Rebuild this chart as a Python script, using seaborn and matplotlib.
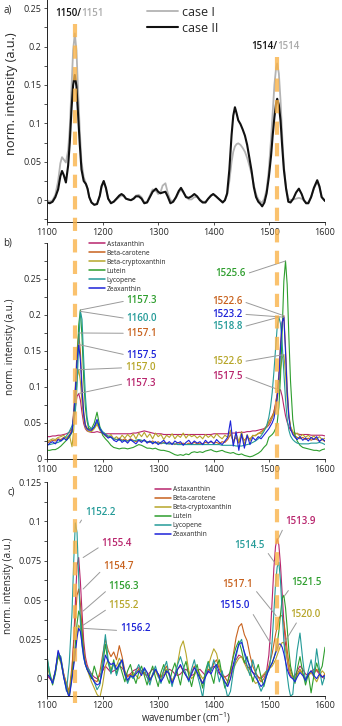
import numpy as np
import pandas as pd
import seaborn as sns
import matplotlib
matplotlib.use("Agg")
import matplotlib.pyplot as plt
from matplotlib.lines import Line2D
from matplotlib.ticker import MultipleLocator, FixedLocator, FixedFormatter
import matplotlib.transforms as mtransforms

# ---------------- panel a data ----------------
wn_a = [1100, 1105, 1110, 1115, 1120, 1124, 1127, 1130, 1134, 1138, 1141, 1144, 1147, 1150, 1153,
        1156, 1159, 1162, 1166, 1170, 1173, 1176, 1180, 1185, 1190, 1195, 1198, 1202, 1206, 1210,
        1215, 1220, 1225, 1230, 1234, 1238, 1242, 1246, 1251, 1256, 1260, 1265, 1270, 1275, 1280,
        1285, 1290, 1296, 1300, 1304, 1308, 1313, 1317, 1322, 1327, 1332, 1337, 1341, 1345, 1350,
        1355, 1360, 1365, 1370, 1375, 1380, 1385, 1390, 1395, 1399, 1404, 1410, 1416, 1420, 1424,
        1428, 1432, 1435, 1438, 1441, 1444, 1448, 1452, 1456, 1460, 1464, 1468, 1472, 1476, 1480,
        1484, 1487, 1491, 1495, 1499, 1503, 1506, 1509, 1512, 1514, 1517, 1520, 1523, 1526, 1530,
        1534, 1538, 1543, 1548, 1553, 1558, 1562, 1566, 1570, 1575, 1580, 1586, 1590, 1594, 1600]
case2 = [-0.003, -0.004, -0.002, 0.004, 0.014, 0.031, 0.038, 0.033, 0.023, 0.045, 0.075, 0.118, 0.150, 0.163, 0.148,
         0.110, 0.072, 0.040, 0.025, 0.021, 0.015, 0.004, -0.003, -0.006, -0.005, 0.006, 0.018, 0.025, 0.016, 0.002,
         -0.004, -0.002, 0.002, 0.006, 0.008, 0.006, 0.002, 0.001, 0.000, 0.002, 0.005, 0.005, 0.002, -0.004, -0.003,
         0.004, 0.011, 0.015, 0.011, 0.009, 0.010, 0.011, 0.005, -0.004, -0.002, 0.004, 0.012, 0.016, 0.011, 0.004,
         0.003, 0.005, 0.008, 0.005, 0.000, -0.003, -0.003, 0.002, 0.006, 0.008, 0.005, 0.001, -0.003, 0.000, 0.009,
         0.040, 0.085, 0.110, 0.121, 0.113, 0.104, 0.099, 0.092, 0.084, 0.072, 0.055, 0.038, 0.017, 0.004, -0.002,
         -0.005, -0.008, -0.003, 0.009, 0.030, 0.058, 0.085, 0.108, 0.126, 0.132, 0.124, 0.104, 0.070, 0.040, 0.015,
         -0.002, -0.003, 0.002, 0.010, 0.015, 0.008, 0.000, -0.004, -0.004, 0.004, 0.016, 0.026, 0.018, 0.004, -0.001]
case1 = [0.000, -0.002, 0.000, 0.007, 0.025, 0.048, 0.056, 0.053, 0.049, 0.065, 0.095, 0.145, 0.195, 0.217, 0.195,
         0.140, 0.090, 0.050, 0.030, 0.022, 0.014, 0.004, -0.003, -0.006, -0.005, 0.005, 0.016, 0.024, 0.015, 0.002,
         -0.003, -0.002, 0.001, 0.004, 0.006, 0.005, 0.002, 0.001, 0.000, 0.003, 0.006, 0.007, 0.004, -0.003, -0.002,
         0.006, 0.014, 0.012, 0.008, 0.010, 0.019, 0.022, 0.010, 0.000, -0.001, 0.003, 0.010, 0.014, 0.010, 0.005,
         0.001, 0.001, 0.004, 0.004, 0.001, -0.002, -0.002, 0.002, 0.006, 0.008, 0.005, 0.001, -0.002, 0.000, 0.007,
         0.025, 0.050, 0.063, 0.070, 0.073, 0.074, 0.072, 0.068, 0.063, 0.055, 0.045, 0.034, 0.020, 0.008, 0.001,
         -0.002, -0.003, 0.002, 0.014, 0.040, 0.080, 0.115, 0.150, 0.172, 0.178, 0.165, 0.130, 0.085, 0.045, 0.016,
         0.002, 0.000, 0.001, 0.002, 0.003, 0.002, 0.000, -0.003, -0.003, 0.004, 0.015, 0.024, 0.017, 0.004, -0.001]

# ---------------- panels b and c: shared wavenumber grid ----------------
grid = [1100, 1105, 1110, 1115, 1120, 1125, 1130, 1135, 1140, 1145,
        1148, 1151, 1154, 1157, 1160, 1163, 1166, 1169, 1172,
        1175, 1180, 1185, 1190, 1195, 1200, 1205, 1210, 1215, 1220,
        1225, 1230, 1235, 1240, 1245, 1250, 1255, 1260, 1265, 1270,
        1275, 1280, 1285, 1290, 1295, 1300, 1305, 1310, 1315, 1320,
        1325, 1330, 1335, 1340, 1345, 1350, 1355, 1360, 1365, 1370,
        1375, 1380, 1385, 1390, 1395, 1400, 1405, 1410, 1415, 1420,
        1425, 1430, 1435, 1440, 1445, 1450, 1455, 1460, 1465, 1470,
        1475, 1480, 1485, 1490, 1495,
        1499, 1502, 1505, 1508, 1511, 1514, 1517, 1520, 1523, 1526, 1529, 1532, 1535, 1538,
        1542, 1546, 1550, 1555, 1560, 1565, 1570, 1575, 1580, 1585, 1590, 1595, 1600]

names = ["Astaxanthin", "Beta-carotene", "Beta-cryptoxanthin", "Lutein", "Lycopene", "Zeaxanthin"]
colors = ["#b8246c", "#c8621e", "#b7a62a", "#2e9e2e", "#249b98", "#1c22d8"]

# panel b values in units of 1e-3 a.u.
astax_b = [31, 31, 32, 32, 33, 33, 34, 35, 37, 42,
           55, 72, 87, 91, 82, 64, 49, 42, 39,
           38, 37, 37, 38, 37, 36, 35, 35, 35, 35,
           35, 35, 35, 35, 35, 35, 36, 36, 37, 38,
           39, 38, 37, 36, 35, 35, 35, 34, 34, 34,
           34, 34, 34, 34, 34, 34, 34, 34, 34, 34,
           34, 34, 34, 34, 34, 35, 35, 35, 35, 35,
           35, 36, 36, 36, 37, 37, 37, 38, 38, 39,
           39, 40, 41, 42, 44,
           47, 51, 57, 65, 77, 89, 96, 96, 87, 73, 60, 51, 45, 40,
           37, 36, 35, 34, 34, 34, 34, 33, 33, 33, 33, 33, 32]
betac_b = [22, 24, 26, 25, 28, 27, 30, 29, 33, 40,
           66, 102, 150, 175, 150, 102, 66, 48, 43,
           41, 40, 44, 50, 42, 37, 34, 31, 30, 28,
           27, 29, 26, 28, 25, 28, 26, 24, 27, 25,
           26, 24, 23, 25, 22, 24, 21, 23, 22, 21,
           22, 20, 23, 21, 22, 20, 22, 21, 23, 21,
           22, 21, 23, 22, 24, 22, 23, 21, 24, 23,
           27, 34, 25, 30, 22, 32, 26, 30, 28, 32,
           33, 35, 38, 41, 46,
           52, 56, 60, 65, 75, 92, 118, 160, 190, 199, 155, 100, 62, 45,
           36, 32, 30, 28, 30, 27, 29, 26, 28, 27, 25, 27, 24]
bcrypt_b = [24, 26, 28, 27, 30, 31, 33, 28, 34, 17,
            40, 78, 112, 124, 108, 78, 55, 44, 40,
            38, 38, 42, 48, 40, 36, 32, 30, 34, 28,
            31, 27, 33, 29, 34, 30, 35, 28, 36, 31,
            37, 30, 35, 28, 36, 31, 34, 27, 33, 30,
            35, 28, 33, 30, 36, 29, 34, 31, 33, 29,
            32, 28, 34, 30, 33, 29, 35, 31, 28, 33,
            30, 40, 22, 36, 24, 38, 20, 34, 25, 33,
            32, 36, 35, 40, 44,
            50, 53, 57, 62, 70, 82, 100, 125, 140, 145, 118, 82, 58, 45,
            38, 34, 36, 31, 34, 30, 33, 29, 32, 28, 31, 27, 29]
lutein_b = [12, 12, 13, 13, 15, 18, 22, 26, 30, 37,
            58, 82, 128, 186, 207, 169, 111, 72, 53,
            42, 42, 50, 65, 45, 33, 28, 24, 19, 16,
            15, 14, 15, 15, 14, 15, 16, 18, 20, 19,
            17, 15, 15, 14, 15, 13, 12, 12, 11, 10,
            8, 6, 5, 6, 5, 7, 6, 9, 10, 9,
            10, 9, 11, 12, 13, 11, 10, 11, 12, 10,
            9, 8, 9, 7, 6, 7, 5, 4, 3, 4,
            6, 8, 11, 16, 20,
            30, 32, 34, 37, 42, 50, 72, 115, 178, 247, 275, 242, 170, 108,
            55, 33, 25, 19, 16, 15, 14, 13, 12, 12, 11, 13, 14]
lyco_b = [20, 20, 21, 22, 23, 25, 28, 32, 38, 46,
          55, 65, 101, 159, 205, 194, 138, 88, 58,
          46, 42, 44, 52, 44, 38, 35, 32, 30, 28,
          27, 26, 26, 25, 25, 26, 25, 26, 27, 26,
          25, 24, 24, 23, 23, 22, 22, 22, 21, 21,
          21, 21, 20, 20, 20, 20, 20, 20, 20, 20,
          20, 20, 20, 20, 20, 20, 20, 20, 19, 19,
          19, 19, 19, 18, 18, 18, 19, 20, 21, 23,
          25, 28, 32, 38, 46,
          58, 72, 92, 120, 152, 183, 197, 188, 160, 120, 82, 55, 40, 32,
          27, 24, 22, 21, 21, 21, 21, 22, 22, 22, 23, 22, 20]
zea_b = [18, 22, 24, 21, 27, 25, 29, 26, 32, 38,
         62, 95, 138, 159, 138, 95, 62, 46, 42,
         40, 40, 45, 55, 42, 36, 33, 29, 31, 26,
         24, 28, 23, 26, 22, 27, 24, 21, 26, 23,
         27, 22, 25, 21, 24, 20, 23, 26, 21, 24,
         20, 25, 22, 24, 19, 23, 26, 21, 25, 22,
         24, 20, 26, 22, 25, 21, 27, 23, 20, 25,
         30, 53, 18, 38, 12, 35, 15, 33, 20, 30,
         26, 31, 28, 33, 38,
         42, 46, 50, 56, 68, 85, 112, 155, 190, 197, 148, 92, 58, 42,
         34, 30, 27, 31, 26, 29, 25, 30, 27, 31, 24, 28, 25]

# panel c values in units of 1e-3 a.u.
astax_c = [2, 0, -2, 4, 16, 12, 3, -4, -10, 5,
           25, 48, 72, 77, 62, 42, 24, 14, 9,
           6, 3, 1, 0, 2, 5, 8, 6, 4, 5,
           6, 8, 7, 4, 2, 3, 5, 6, 7, 5,
           3, 2, 4, 6, 5, 3, 1, 2, 4, 6,
           5, 3, 2, 3, 5, 6, 4, 2, 3, 5,
           6, 4, 2, 4, 7, 8, 6, 3, 2, 1,
           2, 4, 8, 12, 15, 14, 11, 8, 6, 4,
           3, 1, 0, 2, 5,
           15, 30, 50, 70, 84, 89, 85, 72, 54, 36, 22, 12, 5, 2,
           0, 2, 5, 8, 6, 3, 2, 4, 6, 5, 3, 1, 0]
betac_c = [3, 1, -2, 5, 17, 13, 3, -3, -8, 8,
           22, 38, 53, 57, 48, 32, 18, 11, 7,
           4, 1, -1, -2, 4, 15, 25, 18, 14, 17,
           12, 21, 14, 5, 1, 3, 2, 4, 6, 3,
           4, 1, -2, 3, 6, 2, 1, 5, 8, 3,
           -2, 2, 6, 8, 5, 2, 0, 4, 8, 4,
           1, -3, 2, 6, 5, 10, 12, 6, 3, 1,
           -2, 4, 15, 26, 33, 35, 28, 24, 15, 8,
           4, 1, -2, 0, 4,
           8, 12, 16, 22, 28, 33, 38, 40, 40, 36, 28, 18, 10, 5,
           2, 0, 3, 6, 3, 0, 2, 5, 3, 6, 4, 1, 3]
bcrypt_c = [8, 2, -2, 4, 14, 10, 2, -5, -10, 4,
            10, 18, 28, 34, 32, 25, 16, 10, 6,
            3, -2, -6, -10, -12, -4, 8, 12, 6, 9,
            8, 13, 10, 2, -2, 1, 4, 2, 0, 3,
            6, 4, 0, 2, 5, 1, -1, 3, 6, 2,
            -1, 2, 10, 20, 24, 16, 5, 0, 2, 6,
            3, 0, 2, 8, 14, 19, 16, 8, 2, -2,
            -4, 0, 6, 10, 13, 14, 10, 6, 3, 0,
            -3, -2, 1, 3, 5,
            6, 7, 8, 10, 12, 15, 18, 21, 23, 23, 19, 13, 7, 3,
            1, -1, 2, 5, 3, 0, 2, 4, 1, -2, 2, 5, 3]
lutein_c = [13, 4, -4, 3, 15, 11, 1, -6, -12, 2,
            12, 22, 35, 43, 40, 28, 16, 9, 6,
            4, 0, 8, 2, -3, 8, 22, 10, 4, 12,
            3, 10, 4, -2, 5, 9, 2, -3, 4, 8,
            2, -4, 3, 8, 1, -5, 4, 9, 2, -3,
            5, 10, 3, -4, 6, 11, 2, -5, 3, 9,
            1, -6, 5, 11, 3, -3, 8, 12, 2, -6,
            -2, 6, 14, 20, 24, 18, 10, 14, 6, -2,
            4, 9, 1, -5, 2,
            6, 8, 10, 13, 17, 22, 30, 41, 51, 53, 45, 32, 18, 8,
            2, -3, 6, 14, 4, -4, 3, -9, 2, 10, 4, 8, 20]
lyco_c = [15, 2, -3, 5, 16, 14, 2, -8, 10, 42,
          74, 99, 93, 64, 36, 21, 13, 9, 7,
          6, 2, -2, -7, -4, 12, 28, 12, 3, 10,
          2, 8, 12, 4, -3, 2, 0, 5, 9, 4,
          6, 1, -4, 3, 8, 2, -3, 6, 11, 2,
          -5, 3, 9, 14, 8, 3, -2, 6, 12, 3,
          -4, -12, 2, 10, 5, 12, 6, -2, 5, -4,
          -12, -8, 4, 14, 22, 25, 16, 8, 2, 12,
          5, -3, -8, -4, 5,
          5, 12, 24, 42, 60, 71, 74, 62, 42, 24, 11, 2, -6, -11,
          -10, 5, 18, 29, 12, -2, 5, 12, 2, 19, 6, -4, 2]
zea_c = [3, 1, -3, 5, 18, 12, 1, -7, -12, 0,
         8, 16, 26, 32, 30, 22, 14, 9, 6,
         4, 1, -2, -4, -3, 5, 15, 11, 9, 10,
         6, 9, 12, 3, -1, 2, 1, 3, 5, 2,
         7, 4, -1, 2, 6, 3, -2, 1, 5, 3,
         -3, 1, 6, 9, 5, 2, -1, 3, 7, 4,
         0, -3, 1, 5, 3, 7, 9, 4, 1, -2,
         -5, 0, 9, 16, 22, 23, 17, 12, 8, 4,
         1, -2, -5, -3, 2,
         6, 8, 10, 13, 16, 19, 22, 22, 20, 16, 11, 6, 3, 1,
         0, -2, 1, 4, 2, -1, 3, 5, 2, 0, 3, 1, 2]

series_b = [astax_b, betac_b, bcrypt_b, lutein_b, lyco_b, zea_b]
series_c = [astax_c, betac_c, bcrypt_c, lutein_c, lyco_c, zea_c]

# annotation labels: (series name, text)
ann_b_left = [("Lutein", "1157.3"), ("Lycopene", "1160.0"), ("Beta-carotene", "1157.1"),
              ("Zeaxanthin", "1157.5"), ("Beta-cryptoxanthin", "1157.0"), ("Astaxanthin", "1157.3")]
ann_b_right = [("Lutein", "1525.6"), ("Beta-carotene", "1522.6"), ("Zeaxanthin", "1523.2"),
               ("Lycopene", "1518.8"), ("Beta-cryptoxanthin", "1522.6"), ("Astaxanthin", "1517.5")]
ann_c_left = [("Lycopene", "1152.2"), ("Astaxanthin", "1155.4"), ("Beta-carotene", "1154.7"),
              ("Lutein", "1156.3"), ("Beta-cryptoxanthin", "1155.2"), ("Zeaxanthin", "1156.2")]
ann_c_right = [("Astaxanthin", "1513.9"), ("Lycopene", "1514.5"), ("Lutein", "1521.5"),
               ("Beta-carotene", "1517.1"), ("Zeaxanthin", "1515.0"), ("Beta-cryptoxanthin", "1520.0")]

peak_lines = [1150, 1514]

assert len(case1) == len(wn_a) and len(case2) == len(wn_a)
for s in series_b + series_c:
    assert len(s) == len(grid), len(s)

# ---------------- style ----------------
sns.set_theme(style="ticks")
plt.rcParams["font.family"] = ["Open Sans", "DejaVu Sans"]
plt.rcParams["mathtext.fontset"] = "custom"
plt.rcParams["mathtext.rm"] = "Open Sans"
plt.rcParams["lines.scale_dashes"] = False
plt.rcParams["axes.linewidth"] = 0.7
plt.rcParams["axes.edgecolor"] = "#222222"

fig = plt.figure(figsize=(3.42, 7.26), dpi=100)
L, W = 47 / 342, 278 / 342
ax_a = fig.add_axes([L, 0.694, W, 0.3058])
ax_b = fig.add_axes([L, 0.3678, W, 0.2975])
ax_c = fig.add_axes([L, 30 / 726, W, 214 / 726])

# ---- panel a ----
sns.lineplot(x=wn_a, y=case1, color="#b3b3b3", lw=1.3, label="case I", ax=ax_a)
sns.lineplot(x=wn_a, y=case2, color="#111111", lw=1.5, label="case II", ax=ax_a)
ax_a.set_ylim(-0.0286, 0.2604)
ax_a.yaxis.set_major_locator(FixedLocator([0, 0.05, 0.1, 0.15, 0.2, 0.25]))
ax_a.yaxis.set_major_formatter(FixedFormatter(["0", "0.05", "0.1", "0.15", "0.2", "0.25"]))
ax_a.yaxis.set_minor_locator(MultipleLocator(0.025))
h, l = ax_a.get_legend_handles_labels()
ax_a.legend(h, l, loc="upper left", bbox_to_anchor=(0.36, 0.975), frameon=False, fontsize=9,
            handlelength=2.5, handletextpad=0.3, labelspacing=0.25, borderpad=0, borderaxespad=0)
t1 = ax_a.text(1114, 0.243, "1150/", ha="left", va="center", fontsize=7, fontweight="semibold", color="#111111")
ax_a.annotate("1151", xy=(1, 0), xycoords=t1, ha="left", va="bottom", fontsize=7,
              fontweight="semibold", color="#aaaaaa")
t2 = ax_a.text(1468, 0.1996, "1514/", ha="left", va="center", fontsize=7, fontweight="semibold", color="#111111")
ax_a.annotate("1514", xy=(1, 0), xycoords=t2, ha="left", va="bottom", fontsize=7,
              fontweight="semibold", color="#aaaaaa")

# ---- panels b, c ----
col_of = dict(zip(names, colors))
for ax, ser in ((ax_b, series_b), (ax_c, series_c)):
    for name, col, vals in zip(names, colors, ser):
        sns.lineplot(x=grid, y=np.array(vals) / 1000.0, color=col, lw=0.8, label=name, ax=ax)

ax_b.set_ylim(0, 0.30)
ax_b.yaxis.set_major_locator(FixedLocator([0, 0.05, 0.1, 0.15, 0.2, 0.25]))
ax_b.yaxis.set_major_formatter(FixedFormatter(["0", "0.05", "0.1", "0.15", "0.2", "0.25"]))
ax_b.yaxis.set_minor_locator(MultipleLocator(0.025))
ax_c.set_ylim(-0.011, 0.125)
ax_c.yaxis.set_major_locator(FixedLocator([0, 0.025, 0.05, 0.075, 0.1, 0.125]))
ax_c.yaxis.set_major_formatter(FixedFormatter(["0", "0.025", "0.05", "0.075", "0.1", "0.125"]))
ax_c.yaxis.set_minor_locator(MultipleLocator(0.0125))

for ax, anchor in ((ax_b, (0.151, 1.01)), (ax_c, (0.388, 0.982))):
    h, l = ax.get_legend_handles_labels()
    leg = ax.legend(h, l, loc="upper left", bbox_to_anchor=anchor, frameon=False, fontsize=4.8,
                    handlelength=2.4, handletextpad=0.25, labelspacing=0.3, borderpad=0, borderaxespad=0)
    for line in leg.get_lines():
        line.set_linewidth(1.1)


def peak(vals, lo, hi):
    g = np.array(grid)
    v = np.array(vals) / 1000.0
    m = (g >= lo) & (g <= hi)
    i = np.argmax(np.where(m, v, -1))
    return g[i], v[i]


def ann(ax, ser, name, text, xytext, ha, relpos, lo, hi, dx=0.0):
    vals = ser[names.index(name)]
    px, py = peak(vals, lo, hi)
    ax.annotate(text, xy=(px + dx, py), xytext=xytext, textcoords="data", ha=ha, va="center",
                color=col_of[name], fontsize=7, fontweight="semibold",
                arrowprops=dict(arrowstyle="-", color="#9a9a9a", lw=0.7, shrinkA=0, shrinkB=0,
                                relpos=relpos))


# panel b annotation text positions (wavenumber, intensity)
pos_b_left = [(1243, 0.2197), (1243, 0.1951), (1243, 0.1746), (1243, 0.1443), (1240, 0.1267), (1240, 0.1047)]
pos_b_right = [(1458, 0.257), (1452, 0.2189), (1452, 0.2011), (1452, 0.1834), (1452, 0.1351), (1452, 0.1149)]
for (name, text), p in zip(ann_b_left, pos_b_left):
    ann(ax_b, series_b, name, text, p, "left", (0, 0.5), 1140, 1175)
for (name, text), p in zip(ann_b_right, pos_b_right):
    ann(ax_b, series_b, name, text, p, "right", (1, 0.5), 1495, 1545)

pos_c_left = [(1168, 0.1056), (1198, 0.0859), (1201, 0.0711), (1211, 0.0585), (1211, 0.0463), (1231, 0.032)]
for (name, text), p in zip(ann_c_left, pos_c_left):
    ann(ax_c, series_c, name, text, p, "left", (0, 0.3), 1140, 1175, dx=8)
pos_c_right = [(1528, 0.0999), (1492, 0.0846), (1540, 0.061), (1471, 0.060), (1465, 0.0463), (1537, 0.041)]
rel_c_right = [(0, 0.2), (1, 0.2), (0, 0.2), (1, 0.2), (1, 0.2), (0.3, 0.1)]
ha_c_right = ["left", "right", "left", "right", "right", "left"]
dx_c_right = [2, -8, 2, -8, -14, 4]
for (name, text), p, rp, ha, dx in zip(ann_c_right, pos_c_right, rel_c_right, ha_c_right, dx_c_right):
    ann(ax_c, series_c, name, text, p, ha, rp, 1495, 1545, dx=dx)

# ---- common axis styling ----
label_coords = [(-0.105, 0.58), (-0.112, 0.52), (-0.118, 0.514)]
for ax, lc, fs in zip((ax_a, ax_b, ax_c), label_coords, (9.2, 7.2, 7.2)):
    ax.set_xlim(1100, 1600)
    ax.xaxis.set_major_locator(FixedLocator([1100, 1200, 1300, 1400, 1500, 1600]))
    sns.despine(ax=ax)
    ax.tick_params(axis="both", which="major", labelsize=6.5, length=2.5, width=0.6, pad=1.5, color="#333333")
    ax.tick_params(axis="y", which="minor", length=2.5, width=0.6, color="#333333")
    ax.set_ylabel("norm. intensity (a.u.)", fontsize=fs)
    ax.yaxis.set_label_coords(*lc)
    ax.set_xlabel("")
    ax.set_facecolor("white")

ax_c.tick_params(axis="x", pad=1.0)
ax_c.set_xlabel("wavenumber (cm$^{\\mathregular{-1}}$)", fontsize=6.9)
ax_c.xaxis.set_label_coords(0.5, -0.066)

fig.text(4 / 342, 1 - 10 / 726, "a)", fontsize=7, va="center")
fig.text(3 / 342, 1 - 243 / 726, "b)", fontsize=7, va="center")
fig.text(7 / 342, 1 - 492 / 726, "c)", fontsize=7, va="center")

# orange dashed guide lines spanning all panels
trans = mtransforms.blended_transform_factory(ax_c.transData, fig.transFigure)
for x, ytop in zip(peak_lines, (1 - 24 / 726, 1 - 57 / 726)):
    fig.add_artist(Line2D([x, x], [ytop, 1 - 703 / 726], transform=trans, color="#f9b34a",
                          alpha=0.8, lw=3.0, dashes=(9.5, 6.0), zorder=5))

fig.savefig("out.png", dpi=100, facecolor="white")
